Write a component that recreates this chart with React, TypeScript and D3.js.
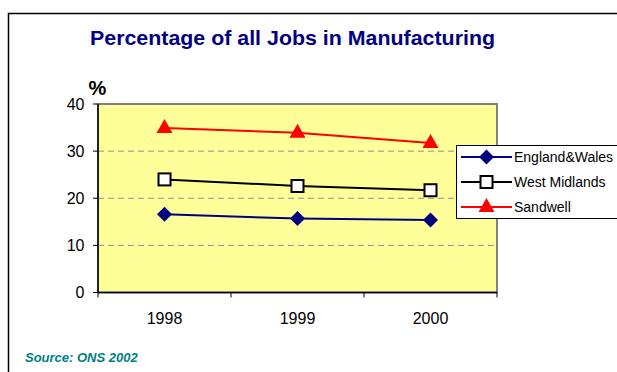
import React from "react";
import * as d3 from "d3";

const years = ["1998", "1999", "2000"];
const englandWales = [16.6, 15.7, 15.4];
const westMidlands = [24.0, 22.6, 21.7];
const sandwell = [34.9, 33.9, 31.7];
const yTicks = [0, 10, 20, 30, 40];
const seriesNames = ["England&Wales", "West Midlands", "Sandwell"];

const W = 617, H = 372;
const plot = { left: 98, right: 497, top: 104, bottom: 292.5 };

function Marker({ kind, x, y }: { kind: number; x: number; y: number }) {
  if (kind === 0) {
    const s = 7.5;
    return <path d={`M${x},${y - s}L${x + s},${y}L${x},${y + s}L${x - s},${y}Z`} fill="#000080" />;
  }
  if (kind === 1) {
    return <rect x={x - 6} y={y - 6} width={12} height={12} fill="#fff" stroke="#000" strokeWidth={2} />;
  }
  return <path d={`M${x},${y - 9}L${x + 8},${y + 5}L${x - 8},${y + 5}Z`} fill="#ff0000" />;
}

export default function App() {
  const x = d3.scaleBand().domain(years).range([plot.left, plot.right]);
  const y = d3.scaleLinear().domain([0, 40]).range([plot.bottom, plot.top]);
  const series = [
    { name: seriesNames[0], values: englandWales, color: "#000080" },
    { name: seriesNames[1], values: westMidlands, color: "#000000" },
    { name: seriesNames[2], values: sandwell, color: "#ff0000" },
  ];
  const line = d3
    .line<number>()
    .x((_, i) => (x(years[i]) as number) + x.bandwidth() / 2)
    .y((v) => y(v));
  const font = "Arial, 'Liberation Sans', sans-serif";
  return (
    <svg width={W} height={H} style={{ position: "absolute", left: 0, top: 0 }} fontFamily={font}>
      <rect x={0} y={0} width={W} height={H} fill="#fff" />
      <rect x={8.5} y={13.5} width={640} height={400} fill="none" stroke="#000" strokeWidth={1.5} />
      <text x={90} y={45} fontSize={21} fontWeight="bold" fill="#000080" textLength={405} lengthAdjust="spacingAndGlyphs">
        Percentage of all Jobs in Manufacturing
      </text>
      <text x={97.5} y={95} textAnchor="middle" fontSize={20} fontWeight="bold" fill="#000">%</text>
      <rect x={plot.left} y={plot.top} width={plot.right - plot.left} height={plot.bottom - plot.top} fill="#ffff99" stroke="#808080" strokeWidth={2} />
      {yTicks.filter((t) => t > 0 && t < 40).map((t) => (
        <line key={t} x1={plot.left} x2={plot.right} y1={y(t)} y2={y(t)} stroke="#909090" strokeWidth={1} strokeDasharray="6,4" />
      ))}
      <line x1={plot.left} x2={plot.left} y1={plot.top} y2={plot.bottom} stroke="#000" strokeWidth={1.5} />
      <line x1={plot.left} x2={plot.right} y1={plot.bottom} y2={plot.bottom} stroke="#000" strokeWidth={1.5} />
      {yTicks.map((t) => (
        <g key={t}>
          <line x1={plot.left - 5} x2={plot.left} y1={y(t)} y2={y(t)} stroke="#000" />
          <text x={plot.left - 13.5} y={y(t) + 5.5} textAnchor="end" fontSize={16} fill="#000">{t}</text>
        </g>
      ))}
      {years.map((yr) => (
        <line key={yr} x1={(x(yr) as number)} x2={(x(yr) as number)} y1={plot.bottom} y2={plot.bottom + 5} stroke="#000" />
      ))}
      <line x1={plot.right} x2={plot.right} y1={plot.bottom} y2={plot.bottom + 5} stroke="#000" />
      {years.map((yr) => (
        <text key={yr} x={(x(yr) as number) + x.bandwidth() / 2} y={323.5} textAnchor="middle" fontSize={16} fill="#000">{yr}</text>
      ))}
      {series.map((s, k) => (
        <g key={s.name}>
          <path d={line(s.values) || ""} fill="none" stroke={s.color} strokeWidth={2} />
          {s.values.map((v, i) => (
            <Marker key={i} kind={k} x={(x(years[i]) as number) + x.bandwidth() / 2} y={y(v)} />
          ))}
        </g>
      ))}
      <rect x={456.5} y={145.5} width={170} height={73} fill="#fff" stroke="#000" strokeWidth={1} />
      {series.map((s, k) => {
        const ly = 157 + k * 25;
        return (
          <g key={s.name}>
            <line x1={461} x2={512} y1={ly} y2={ly} stroke={s.color} strokeWidth={2} />
            <Marker kind={k} x={486.5} y={ly} />
            <text x={514} y={ly + 5} fontSize={14} fill="#000">{s.name}</text>
          </g>
        );
      })}
      <text x={25} y={362} fontSize={13} fontWeight="bold" fontStyle="italic" fill="#008080">Source: ONS 2002</text>
    </svg>
  );
}
